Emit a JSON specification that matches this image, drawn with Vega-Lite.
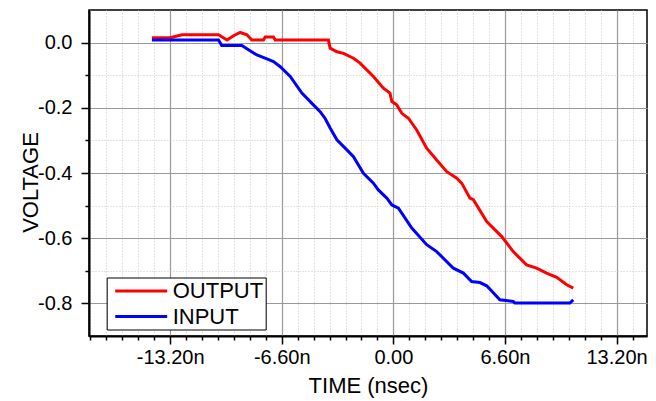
{
  "$schema": "https://vega.github.io/schema/vega-lite/v6.json",
  "width": 558,
  "height": 326,
  "autosize": "none",
  "padding": {"left": 89, "top": 10, "right": 9, "bottom": 65},
  "background": "white",
  "config": {"view": {"stroke": "#000", "strokeWidth": 1.5}, "font": "Liberation Sans"},
  "data": {"values": [
    {"series": "OUTPUT", "t": -14.28, "v": 0.015},
    {"series": "OUTPUT", "t": -13.2, "v": 0.015},
    {"series": "OUTPUT", "t": -12.5, "v": 0.024},
    {"series": "OUTPUT", "t": -10.34, "v": 0.024},
    {"series": "OUTPUT", "t": -9.84, "v": 0.008},
    {"series": "OUTPUT", "t": -9.45, "v": 0.021},
    {"series": "OUTPUT", "t": -9.06, "v": 0.031},
    {"series": "OUTPUT", "t": -8.66, "v": 0.024},
    {"series": "OUTPUT", "t": -8.37, "v": 0.008},
    {"series": "OUTPUT", "t": -7.68, "v": 0.008},
    {"series": "OUTPUT", "t": -7.58, "v": 0.017},
    {"series": "OUTPUT", "t": -7.09, "v": 0.017},
    {"series": "OUTPUT", "t": -6.99, "v": 0.008},
    {"series": "OUTPUT", "t": -3.84, "v": 0.008},
    {"series": "OUTPUT", "t": -3.74, "v": -0.017},
    {"series": "OUTPUT", "t": -3.34, "v": -0.028},
    {"series": "OUTPUT", "t": -2.95, "v": -0.033},
    {"series": "OUTPUT", "t": -2.36, "v": -0.048},
    {"series": "OUTPUT", "t": -1.97, "v": -0.063},
    {"series": "OUTPUT", "t": -1.18, "v": -0.104},
    {"series": "OUTPUT", "t": -0.59, "v": -0.14},
    {"series": "OUTPUT", "t": -0.2, "v": -0.155},
    {"series": "OUTPUT", "t": -0.09, "v": -0.181},
    {"series": "OUTPUT", "t": 0.2, "v": -0.191},
    {"series": "OUTPUT", "t": 0.5, "v": -0.217},
    {"series": "OUTPUT", "t": 0.89, "v": -0.232},
    {"series": "OUTPUT", "t": 1.38, "v": -0.268},
    {"series": "OUTPUT", "t": 1.97, "v": -0.324},
    {"series": "OUTPUT", "t": 2.56, "v": -0.36},
    {"series": "OUTPUT", "t": 3.16, "v": -0.396},
    {"series": "OUTPUT", "t": 3.75, "v": -0.416},
    {"series": "OUTPUT", "t": 4.04, "v": -0.431},
    {"series": "OUTPUT", "t": 4.53, "v": -0.477},
    {"series": "OUTPUT", "t": 4.73, "v": -0.482},
    {"series": "OUTPUT", "t": 5.52, "v": -0.549},
    {"series": "OUTPUT", "t": 6.41, "v": -0.595},
    {"series": "OUTPUT", "t": 7.09, "v": -0.641},
    {"series": "OUTPUT", "t": 7.88, "v": -0.682},
    {"series": "OUTPUT", "t": 8.47, "v": -0.692},
    {"series": "OUTPUT", "t": 9.06, "v": -0.707},
    {"series": "OUTPUT", "t": 9.66, "v": -0.72},
    {"series": "OUTPUT", "t": 10.25, "v": -0.743},
    {"series": "OUTPUT", "t": 10.64, "v": -0.753},
    {"series": "INPUT", "t": -14.28, "v": 0.008},
    {"series": "INPUT", "t": -10.34, "v": 0.008},
    {"series": "INPUT", "t": -10.15, "v": -0.009},
    {"series": "INPUT", "t": -8.96, "v": -0.009},
    {"series": "INPUT", "t": -8.57, "v": -0.022},
    {"series": "INPUT", "t": -8.07, "v": -0.038},
    {"series": "INPUT", "t": -7.48, "v": -0.05},
    {"series": "INPUT", "t": -7.09, "v": -0.058},
    {"series": "INPUT", "t": -6.69, "v": -0.074},
    {"series": "INPUT", "t": -6.1, "v": -0.104},
    {"series": "INPUT", "t": -5.41, "v": -0.155},
    {"series": "INPUT", "t": -4.73, "v": -0.191},
    {"series": "INPUT", "t": -4.33, "v": -0.212},
    {"series": "INPUT", "t": -4.04, "v": -0.232},
    {"series": "INPUT", "t": -3.74, "v": -0.262},
    {"series": "INPUT", "t": -3.34, "v": -0.298},
    {"series": "INPUT", "t": -2.75, "v": -0.329},
    {"series": "INPUT", "t": -2.36, "v": -0.35},
    {"series": "INPUT", "t": -1.77, "v": -0.401},
    {"series": "INPUT", "t": -1.18, "v": -0.431},
    {"series": "INPUT", "t": -0.89, "v": -0.452},
    {"series": "INPUT", "t": -0.39, "v": -0.477},
    {"series": "INPUT", "t": -0.09, "v": -0.498},
    {"series": "INPUT", "t": 0.3, "v": -0.508},
    {"series": "INPUT", "t": 1.09, "v": -0.569},
    {"series": "INPUT", "t": 1.97, "v": -0.62},
    {"series": "INPUT", "t": 2.56, "v": -0.641},
    {"series": "INPUT", "t": 3.55, "v": -0.692},
    {"series": "INPUT", "t": 4.14, "v": -0.707},
    {"series": "INPUT", "t": 4.63, "v": -0.733},
    {"series": "INPUT", "t": 5.12, "v": -0.736},
    {"series": "INPUT", "t": 5.52, "v": -0.746},
    {"series": "INPUT", "t": 6.3, "v": -0.789},
    {"series": "INPUT", "t": 7.09, "v": -0.794},
    {"series": "INPUT", "t": 7.19, "v": -0.799},
    {"series": "INPUT", "t": 10.44, "v": -0.799},
    {"series": "INPUT", "t": 10.64, "v": -0.789}
  ]},
  "layer": [
    {
      "mark": {"type": "line", "opacity": 0},
      "encoding": {
        "detail": {"field": "series"},
        "x": {"field": "t", "type": "quantitative",
          "scale": {"domain": [-18, 15], "nice": false, "zero": false},
          "axis": {"orient": "bottom", "values": [-17.914, -16.971, -16.029, -15.086, -14.143, -12.257, -11.314, -10.371, -9.429, -8.486, -7.543, -5.657, -4.714, -3.771, -2.829, -1.886, -0.943, 0.943, 1.886, 2.829, 3.771, 4.714, 5.657, 7.543, 8.486, 9.429, 10.371, 11.314, 12.257, 14.143],
            "labels": false, "title": null, "domain": false, "ticks": true, "tickSize": 4, "tickColor": "#000", "tickWidth": 1.5,
            "grid": true, "gridColor": "#c8c8c8", "gridDash": [1, 2], "gridWidth": 1}},
        "y": {"field": "v", "type": "quantitative",
          "scale": {"domain": [-0.9, 0.1], "nice": false, "zero": false},
          "axis": {"orient": "left", "values": [-0.1, -0.3, -0.5, -0.7],
            "labels": false, "title": null, "domain": false, "ticks": true, "tickSize": 4, "tickColor": "#000", "tickWidth": 1.5,
            "grid": true, "gridColor": "#c8c8c8", "gridDash": [1, 2], "gridWidth": 1}}
      }
    },
    {
      "mark": {"type": "line", "strokeWidth": 3},
      "encoding": {
        "x": {"field": "t", "type": "quantitative",
          "axis": {"orient": "bottom", "values": [-13.2, -6.6, 0, 6.6, 13.2],
            "labelExpr": "datum.value == 0 ? '0.00' : (datum.value < 0 ? '-' : '') + format(abs(datum.value), '.2f') + 'n'",
            "labelFontSize": 20, "labelColor": "#000", "labelBaseline": "alphabetic", "labelPadding": 19,
            "tickSize": 8, "tickColor": "#000", "tickWidth": 1.5,
            "domain": true, "domainColor": "#000", "domainWidth": 2,
            "grid": true, "gridColor": "#9a9a9a", "gridWidth": 1.2,
            "title": "TIME (nsec)", "titleFontSize": 22, "titleFontWeight": "normal", "titleColor": "#000",
            "titleBaseline": "alphabetic", "titleY": 56, "titleX": 279}},
        "y": {"field": "v", "type": "quantitative",
          "axis": {"orient": "left", "values": [0, -0.2, -0.4, -0.6, -0.8],
            "labelExpr": "(datum.value < 0 ? '-' : '') + format(abs(datum.value), '.1f')",
            "labelFontSize": 20, "labelColor": "#000", "labelPadding": 9,
            "tickSize": 8, "tickColor": "#000", "tickWidth": 1.5,
            "domain": true, "domainColor": "#000", "domainWidth": 2,
            "grid": true, "gridColor": "#9a9a9a", "gridWidth": 1.2,
            "title": "VOLTAGE", "titleFontSize": 22, "titleFontWeight": "normal", "titleColor": "#000",
            "titleBaseline": "middle", "titleX": -59, "titleY": 172, "titleAngle": -90}},
        "color": {"field": "series", "type": "nominal",
          "scale": {"domain": ["OUTPUT", "INPUT"], "range": ["#ff0000", "#0000ff"]},
          "legend": {"orient": "none", "legendX": 17.7, "legendY": 267.5, "title": null,
            "fillColor": "white", "strokeColor": "#000", "padding": 2,
            "symbolType": "M-0.5,0H4.7", "symbolSize": 400, "symbolStrokeWidth": 3,
            "labelFontSize": 22, "labelColor": "#000", "labelOffset": 41, "rowPadding": 2.5}}
      }
    }
  ],
  "resolve": {"axis": {"x": "independent", "y": "independent"}}
}
